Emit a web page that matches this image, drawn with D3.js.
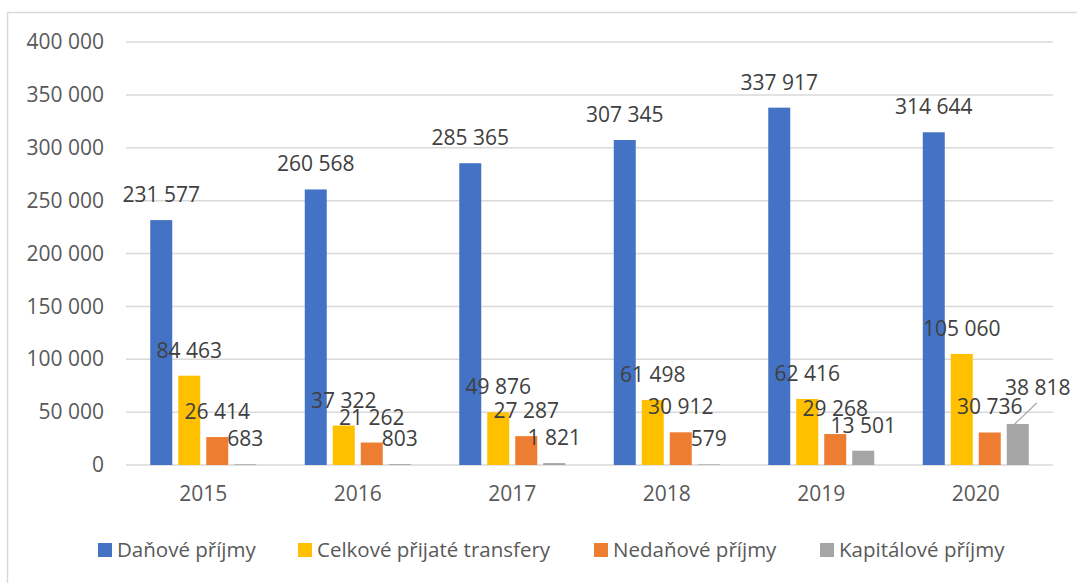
<!DOCTYPE html>
<html>
<head>
<meta charset="utf-8">
<script src="https://cdn.jsdelivr.net/npm/d3@7"></script>
<style>
  body { margin: 0; background: #fff; }
  svg text { font-family: "Open Sans", sans-serif; }
</style>
</head>
<body>
<div id="chart"></div>
<script>
// Data
const years = ['2015', '2016', '2017', '2018', '2019', '2020'];
const seriesNames = ['Daňové příjmy', 'Celkové přijaté transfery', 'Nedaňové příjmy', 'Kapitálové příjmy'];
const danove = [231577, 260568, 285365, 307345, 337917, 314644];
const transfery = [84463, 37322, 49876, 61498, 62416, 105060];
const nedanove = [26414, 21262, 27287, 30912, 29268, 30736];
const kapitalove = [683, 803, 1821, 579, 13501, 38818];
const yTicks = [0, 50000, 100000, 150000, 200000, 250000, 300000, 350000, 400000];
const colors = ['#4472C4', '#FFC000', '#ED7D31', '#A5A5A5'];

const seriesValues = [danove, transfery, nedanove, kapitalove];

const width = 1077;
const height = 583;
const plot = { left: 126, right: 1053, top: 42, bottom: 465 };

const fmt = v => d3.format(',')(v).replace(/,/g, ' ');

const svg = d3.select('#chart')
  .append('svg')
  .attr('width', width)
  .attr('height', height);

// Outer chart border (clipped on right and bottom like the picture)
svg.append('rect')
  .attr('x', 7.5)
  .attr('y', 12.5)
  .attr('width', 1100)
  .attr('height', 600)
  .attr('fill', 'none')
  .attr('stroke', '#D9D9D9')
  .attr('stroke-width', 1.5);

// Scales
const x0 = d3.scaleBand()
  .domain(years)
  .range([plot.left, plot.right])
  .paddingInner(0.314)
  .paddingOuter(0.157);

const x1 = d3.scaleBand()
  .domain(seriesNames)
  .range([0, x0.bandwidth()])
  .paddingInner(0.214);

const y = d3.scaleLinear()
  .domain([0, 400000])
  .range([plot.bottom, plot.top]);

// Gridlines
svg.append('g')
  .selectAll('line')
  .data(yTicks)
  .enter()
  .append('line')
  .attr('x1', plot.left)
  .attr('x2', plot.right)
  .attr('y1', d => y(d))
  .attr('y2', d => y(d))
  .attr('stroke', '#D9D9D9')
  .attr('stroke-width', 1.5);

// Y axis labels
const yAxis = svg.append('g')
  .attr('transform', `translate(${plot.left - 22},0)`)
  .call(d3.axisLeft(y).tickValues(yTicks).tickFormat(fmt).tickSize(0).tickPadding(0));
yAxis.select('.domain').remove();
yAxis.selectAll('text')
  .attr('font-size', 21)
  .attr('fill', '#595959')
  .attr('font-family', '"Open Sans", sans-serif');

// X axis labels
const xAxis = svg.append('g')
  .attr('transform', `translate(0,${plot.bottom})`)
  .call(d3.axisBottom(x0).tickSize(0).tickPadding(21));
xAxis.select('.domain').remove();
xAxis.selectAll('text')
  .attr('font-size', 21)
  .attr('fill', '#595959')
  .attr('font-family', '"Open Sans", sans-serif');

// Bars + labels
const rows = [];
years.forEach((yr, i) => {
  seriesNames.forEach((s, j) => {
    rows.push({ year: yr, series: s, value: seriesValues[j][i], color: colors[j] });
  });
});

svg.append('g')
  .selectAll('rect')
  .data(rows)
  .enter()
  .append('rect')
  .attr('x', d => x0(d.year) + x1(d.series))
  .attr('y', d => y(d.value))
  .attr('width', x1.bandwidth())
  .attr('height', d => y(0) - y(d.value))
  .attr('fill', d => d.color);

// Excel moved the last label aside and drew a leader line to it
const moved = d => d.year === '2020' && d.series === 'Kapitálové příjmy';

svg.append('g')
  .selectAll('text')
  .data(rows)
  .enter()
  .append('text')
  .attr('x', d => x0(d.year) + x1(d.series) + x1.bandwidth() / 2 + (moved(d) ? 20 : 0))
  .attr('y', d => y(d.value) - 18 - (moved(d) ? 11 : 0))
  .attr('text-anchor', 'middle')
  .attr('font-size', 21)
  .attr('fill', '#404040')
  .text(d => fmt(d.value));

rows.filter(moved).forEach(d => {
  const cx = x0(d.year) + x1(d.series) + x1.bandwidth() / 2;
  svg.append('line')
    .attr('x1', cx + 19)
    .attr('y1', y(d.value) - 21)
    .attr('x2', cx - 3)
    .attr('y2', y(d.value))
    .attr('stroke', '#A6A6A6')
    .attr('stroke-width', 1.2);
});

// Legend
const legendX = [98, 298, 594, 820];
const legend = svg.append('g');
seriesNames.forEach((s, j) => {
  legend.append('rect')
    .attr('x', legendX[j])
    .attr('y', 543)
    .attr('width', 14)
    .attr('height', 14)
    .attr('fill', colors[j]);
  legend.append('text')
    .attr('x', legendX[j] + 19)
    .attr('y', 557)
    .attr('font-size', 20.5)
    .attr('fill', '#595959')
    .text(s);
});
</script>
</body>
</html>
